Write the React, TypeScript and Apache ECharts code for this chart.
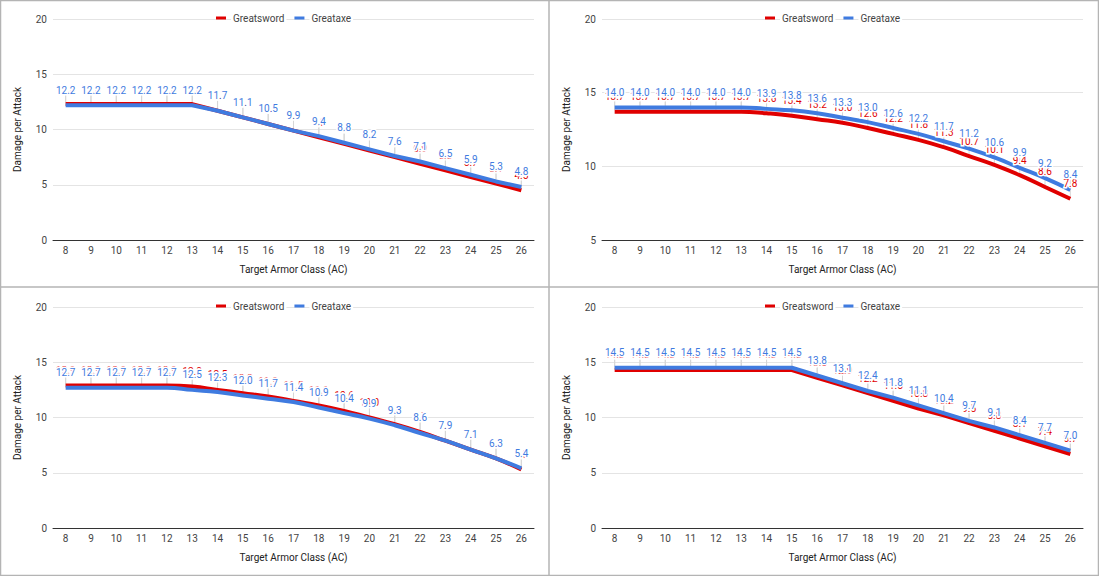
import React, { useEffect, useRef } from "react";
import * as echarts from "echarts";

const armorClass = ["8","9","10","11","12","13","14","15","16","17","18","19","20","21","22","23","24","25","26"];

const p1Greatsword = [12.3,12.3,12.3,12.3,12.3,12.3,11.7,11.1,10.5,9.9,9.3,8.7,8.1,7.5,6.9,6.3,5.7,5.1,4.5];
const p1Greataxe = [12.2,12.2,12.2,12.2,12.2,12.2,11.7,11.1,10.5,9.9,9.4,8.8,8.2,7.6,7.1,6.5,5.9,5.3,4.8];

const p2Greatsword = [13.7,13.7,13.7,13.7,13.7,13.7,13.6,13.44,13.2,12.96,12.6,12.2,11.8,11.3,10.7,10.1,9.4,8.6,7.8];
const p2Greataxe = [14.0,14.0,14.0,14.0,14.0,14.0,13.9,13.8,13.6,13.3,13.0,12.6,12.2,11.7,11.2,10.6,9.9,9.2,8.4];

const p3Greatsword = [12.9,12.9,12.9,12.9,12.9,12.8,12.5,12.2,11.9,11.5,11.1,10.6,10.0,9.4,8.7,7.9,7.1,6.3,5.3];
const p3Greataxe = [12.7,12.7,12.7,12.7,12.7,12.5,12.3,12.0,11.7,11.4,10.9,10.4,9.9,9.3,8.6,7.9,7.1,6.3,5.4];

const p4Greatsword = [14.3,14.3,14.3,14.3,14.3,14.3,14.3,14.3,13.6,12.9,12.2,11.5,10.8,10.2,9.5,8.8,8.1,7.4,6.7];
const p4Greataxe = [14.5,14.5,14.5,14.5,14.5,14.5,14.5,14.5,13.8,13.1,12.4,11.8,11.1,10.4,9.7,9.1,8.4,7.7,7.0];

const panelSwords = [p1Greatsword, p2Greatsword, p3Greatsword, p4Greatsword];
const panelAxes = [p1Greataxe, p2Greataxe, p3Greataxe, p4Greataxe];
const panelYMin = [0, 5, 0, 0];
const panelSmooth = [false, true, true, false];
const yMax = 20;
const yInterval = 5;

const seriesNames = ["Greatsword", "Greataxe"];
const xTitle = "Target Armor Class (AC)";
const yTitle = "Damage per Attack";

const RED = "#e00000";
const BLUE = "#3f7be0";
const FONT = "Roboto, Arial, sans-serif";

const panelX = [0, 549, 0, 549];
const panelY = [0, 0, 287, 287];

export default function App() {
  const ref = useRef<HTMLDivElement>(null);
  useEffect(() => {
    if (!ref.current) return;
    const chart = echarts.init(ref.current, null, { renderer: "svg" });
    const grid: any[] = [];
    const xAxis: any[] = [];
    const yAxis: any[] = [];
    const series: any[] = [];
    const legend: any[] = [];
    for (let i = 0; i < 4; i++) {
      const px = panelX[i];
      const py = panelY[i] + (i >= 2 ? 1 : 0);
      grid.push({ left: px + 53, top: py + 19, width: 481, height: 221 });
      xAxis.push({
        type: "category",
        gridIndex: i,
        data: armorClass,
        boundaryGap: true,
        name: xTitle,
        nameLocation: "middle",
        nameGap: 24,
        nameTextStyle: { fontFamily: FONT, fontSize: 10, color: "#222" },
        axisLine: { show: true, lineStyle: { color: "#333", width: 1 } },
        axisTick: { show: false },
        axisLabel: { fontFamily: FONT, fontSize: 10, color: "#444", margin: 5, interval: 0 },
        splitLine: { show: false },
      });
      yAxis.push({
        type: "value",
        gridIndex: i,
        min: panelYMin[i],
        max: yMax,
        interval: yInterval,
        name: yTitle,
        nameLocation: "middle",
        nameGap: 31,
        nameTextStyle: { fontFamily: FONT, fontSize: 10, color: "#222" },
        axisLine: { show: false },
        axisTick: { show: false },
        axisLabel: { fontFamily: FONT, fontSize: 10, color: "#444", margin: 6 },
        splitLine: { show: true, lineStyle: { color: "#e4e4e4", width: 1 } },
      });
      legend.push({
        data: seriesNames,
        left: px + 216,
        top: py + 13,
        icon: "rect",
        itemWidth: 10,
        itemHeight: 3,
        itemGap: 8,
        padding: 0,
        textStyle: { fontFamily: FONT, fontSize: 10, color: "#444", backgroundColor: "#fff", padding: [0, 2, 0, 2] },
      });
      const sets = [panelSwords[i], panelAxes[i]];
      const colors = [RED, BLUE];
      // annotation stems
      sets.forEach((vals) => {
        series.push({
          type: "custom",
          xAxisIndex: i,
          yAxisIndex: i,
          silent: true,
          z: 1,
          data: vals.map((v, j) => [j, v]),
          encode: { x: 0, y: 1 },
          renderItem: (_p: any, api: any) => {
            const pt = api.coord([api.value(0), api.value(1)]);
            return {
              type: "line",
              shape: { x1: pt[0], y1: pt[1] - 2, x2: pt[0], y2: pt[1] - 10 },
              style: { stroke: "#d6d6d6", lineWidth: 1 },
            };
          },
        });
      });
      // lines
      sets.forEach((vals, k) => {
        series.push({
          type: "line",
          name: seriesNames[k],
          xAxisIndex: i,
          yAxisIndex: i,
          data: vals,
          smooth: panelSmooth[i] ? 0.5 : false,
          symbol: "none",
          z: 3 + k,
          lineStyle: { color: colors[k], width: 4 },
          itemStyle: { color: colors[k] },
        });
      });
      // annotation labels with white aura (blue drawn above red)
      sets.forEach((vals, k) => {
        series.push({
          type: "custom",
          xAxisIndex: i,
          yAxisIndex: i,
          silent: true,
          z: 6 + k,
          data: vals.map((v, j) => [j, v]),
          encode: { x: 0, y: 1 },
          renderItem: (_p: any, api: any) => {
            const v = api.value(1);
            const pt = api.coord([api.value(0), v]);
            return {
              type: "text",
              x: pt[0],
              y: pt[1] - 10,
              style: {
                text: Number(v).toFixed(1),
                fill: colors[k],
                stroke: "#ffffff",
                lineWidth: 3,
                fontFamily: FONT,
                fontSize: 10,
                align: "center",
                verticalAlign: "bottom",
                textAlign: "center",
                textVerticalAlign: "bottom",
              },
            };
          },
        });
      });
    }
    const border = "#b4b4b4";
    chart.setOption({
      animation: false,
      backgroundColor: "#fff",
      grid,
      xAxis,
      yAxis,
      legend,
      series,
      graphic: [
        { type: "rect", shape: { x: 0.5, y: 0.5, width: 1098, height: 575 }, style: { fill: "none", stroke: border, lineWidth: 1.5 }, silent: true },
        { type: "line", shape: { x1: 549, y1: 0, x2: 549, y2: 576 }, style: { stroke: border, lineWidth: 1.5 }, silent: true },
        { type: "line", shape: { x1: 0, y1: 287, x2: 1099, y2: 287 }, style: { stroke: border, lineWidth: 1.5 }, silent: true },
      ],
    });
    return () => chart.dispose();
  }, []);
  return (
    <div style={{ position: "absolute", left: 0, top: 0, width: 1099, height: 576 }}>
      <div ref={ref} style={{ width: 1099, height: 576 }} />
    </div>
  );
}
